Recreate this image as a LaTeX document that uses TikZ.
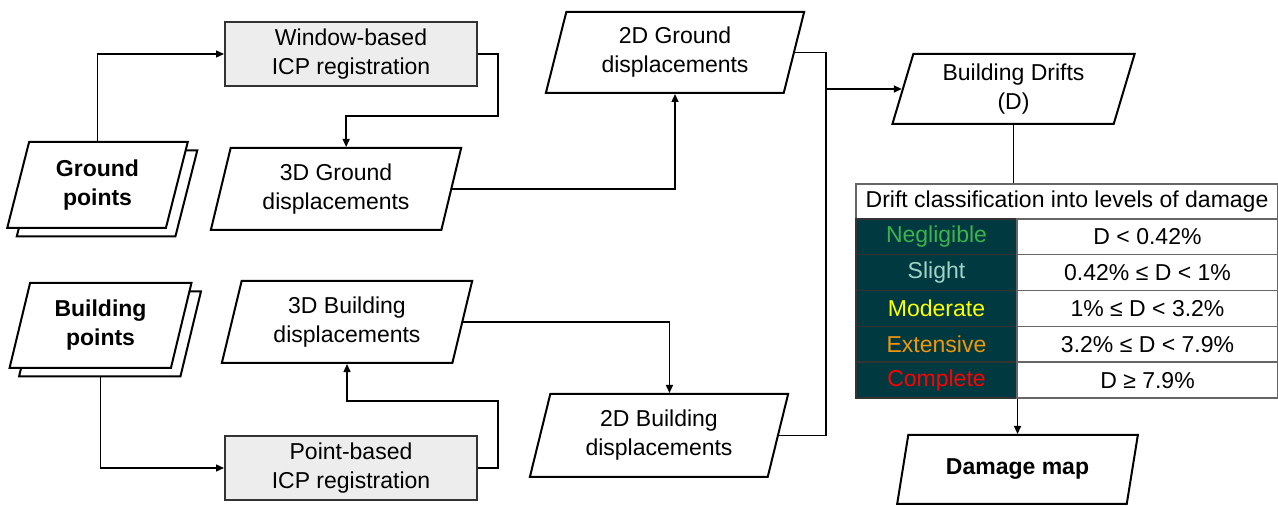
\documentclass[tikz,border=0pt]{standalone}
\usepackage{fontspec}
\setmainfont{Liberation Sans}
\usetikzlibrary{shapes.geometric,arrows.meta,calc}

\definecolor{tealbg}{RGB}{0,58,64}
\definecolor{cneg}{RGB}{60,180,75}
\definecolor{csli}{RGB}{160,212,200}
\definecolor{cmod}{RGB}{255,255,0}
\definecolor{cext}{RGB}{240,150,10}
\definecolor{ccom}{RGB}{255,0,0}

\begin{document}
\begin{tikzpicture}[x=0.5pt, y=-0.5pt, font=\fontsize{11.5}{14.5}\selectfont,
  proc/.style = {draw=black!80, line width=1pt, fill=black!7, align=center,
                 minimum width=126pt, minimum height=32pt},
  data/.style = {trapezium, trapezium left angle=76, trapezium right angle=104,
                 trapezium stretches=true, draw, line width=1pt, fill=white,
                 align=center, inner sep=2pt},
  bold/.style = {font=\fontsize{11.5}{14.5}\selectfont\bfseries},
  cellL/.style = {draw=black!80, line width=0.7pt, fill=tealbg,
                  minimum width=80.5pt, minimum height=17.9pt, inner sep=0pt},
  cellR/.style = {draw=black!60, line width=0.7pt, fill=white,
                  minimum width=130.5pt, minimum height=17.9pt, inner sep=0pt},
  conn/.style = {line width=0.7pt},
  arr/.style = {conn, -{Triangle[length=4pt, width=3.5pt]}}]
\useasboundingbox (0,0) rectangle (1278,506);

%%%% Input point clouds (stacked)
\node[data, bold, minimum width=90.5pt, minimum height=43pt] (gptsb) at (107,193.5)
  {\phantom{Ground}\\\phantom{points}};
\node[data, bold, minimum width=90.5pt, minimum height=43pt] (gpts) at (97.5,185) {Ground\\points};
\node[data, bold, minimum width=91.5pt, minimum height=42.5pt] (bptsb) at (110,334)
  {\phantom{Building}\\\phantom{points}};
\node[data, bold, minimum width=91.5pt, minimum height=42.5pt] (bpts) at (100.5,325.5) {Building\\points};

%%%% Registration
\node[proc] (wicp) at (351,54) {Window-based\\ICP registration};
\node[proc] (picp) at (351,468) {Point-based\\ICP registration};

%%%% Displacements
\node[data, minimum width=126pt, minimum height=41pt] (g3d) at (336,189) {3D Ground\\displacements};
\node[data, minimum width=126pt, minimum height=41pt] (b3d) at (347,322) {3D Building\\displacements};
\node[data, minimum width=130pt, minimum height=40.5pt] (g2d) at (675,52.5) {2D Ground\\displacements};
\node[data, minimum width=130pt, minimum height=41.5pt] (b2d) at (659,435.5) {2D Building\\displacements};

%%%% Drifts and damage
\node[data, trapezium left angle=75, trapezium right angle=105, minimum width=121.5pt, minimum height=35pt]
  (drift) at (1013.5,89) {Building Drifts\\(D)};
\node[data, bold, trapezium left angle=75, trapezium right angle=105, minimum width=120.5pt,
  minimum height=34.5pt] (dmap) at (1017.5,469.5) {Damage map};

%%%% Classification table
\node[draw=black!60, line width=0.7pt, fill=white, minimum width=211pt, minimum height=17.5pt, inner sep=0pt]
  (tbl) at (1067,201.5) {Drift classification into levels of damage};
\foreach \lvl/\col/\rng [count=\i] in {Negligible/cneg/{D < 0.42\%},
    Slight/csli/{0.42\% ≤ D < 1\%}, Moderate/cmod/{1\% ≤ D < 3.2\%},
    Extensive/cext/{3.2\% ≤ D < 7.9\%}, Complete/ccom/{D ≥ 7.9\%}} {
  \node[cellL, text=\col] (lvl\i) at (936.5,219+35.8*\i-17.9) {\lvl};
  \node[cellR] (rng\i) at (1147.5,219+35.8*\i-17.9) {\rng};
}

%%%% Connectors
\coordinate (jn) at (826,0);
\draw[arr] (gpts.north) |- (wicp.west);
\draw[arr] (wicp.east) -- ++(20,0) |- ($(g3d.top side)+(0,-31)$) -- (g3d.top side);
\draw[arr] (g3d.east) -| (g2d.south);
\draw[arr] (bpts.south |- bptsb.south) |- (picp.west);
\draw[arr] (picp.east) -- ++(20,0) |- ($(b3d.south)+(0,37)$) -- (b3d.south);
\draw[arr] (b3d.east) -| (b2d.top side);
\draw[conn] (g2d.east) -| (jn |- b2d.east) -- (b2d.east);
\draw[arr] (jn |- drift.west) -- (drift.west);
\draw[conn] (drift.south) -- (drift.south |- tbl.north);
\draw[arr] (dmap.north |- lvl5.south) -- (dmap.north);
\end{tikzpicture}
\end{document}
